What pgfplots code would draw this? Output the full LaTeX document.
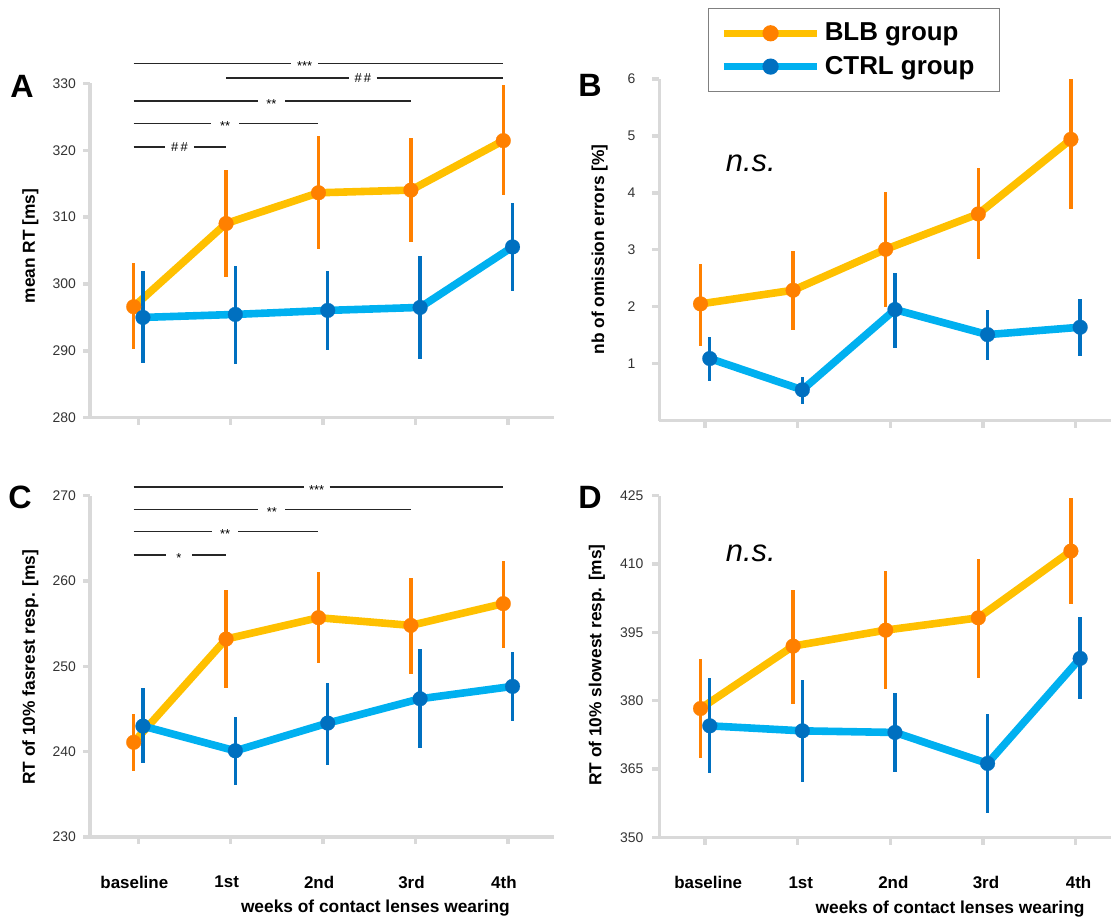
\documentclass[border=0pt]{standalone}
\usepackage{fontspec}
\setmainfont{Liberation Sans}
\usepackage{pgfplots}
\pgfplotsset{compat=1.18}
\definecolor{ylw}{HTML}{FFC000}
\definecolor{org}{HTML}{FF8000}
\definecolor{lblue}{HTML}{00B0F0}
\definecolor{dblue}{HTML}{0070C0}
\definecolor{lgray}{HTML}{D9D9D9}
\pgfplotsset{
 panel/.style={
  scale only axis, axis lines*=left, enlargelimits=false, clip=false,
  axis line style={lgray, line width=1.8bp},
  tick align=outside, major tick length=3.5bp,
  major tick style={lgray, line width=1.7bp},
  xtick={0,1,2,3,4},
  /pgf/number format/assume math mode=true,
  yticklabel style={font=\fontsize{7}{8}\selectfont, text=black!80},
  xticklabel style={font=\bfseries\fontsize{8.5}{10}\selectfont, text=black, yshift=-12.5bp},
 },
 blb/.style={ylw, line width=3.8bp, mark=*, mark size=3.7bp,
  mark options={draw=org, fill=org, line width=0.1bp},
  error bars/.cd, y dir=both, y explicit, error mark=none,
  error bar style={org, line width=1.7bp}},
 ctrl/.style={lblue, line width=3.8bp, mark=*, mark size=3.7bp,
  mark options={draw=dblue, fill=dblue, line width=0.1bp},
  error bars/.cd, y dir=both, y explicit, error mark=none,
  error bar style={dblue, line width=1.7bp}},
}
\newcommand{\sig}[8]{%
 \draw[black!85, line width=0.75bp] (axis cs:#2,#1) -- (axis cs:#3,#1) (axis cs:#4,#1) -- (axis cs:#5,#1);
 \node[font=\fontsize{6.5}{7}\selectfont, inner sep=0pt] at ([yshift=#8]axis cs:#7,#1) {#6};}
\newcommand{\ylab}{\bfseries\fontsize{8.7}{10}\selectfont}
\newcommand{\plab}{\bfseries\fontsize{16.2}{19}\selectfont}
\begin{document}
\begin{tikzpicture}
\useasboundingbox (0,0) rectangle (555.5bp,461bp);
% ---------------- Panel A
\begin{axis}[panel, at={(45bp,252.15bp)}, anchor=south west,
  width=232bp, height=167.1bp,
  xmin=-0.523, xmax=4.499, ymin=280, ymax=330,
  ytick={280,290,300,310,320,330}, xticklabels={}]
\addplot[blb] table[x=x,y=y,y error plus=ep,y error minus=em]{
x y ep em
-0.05 296.6 6.55 6.35
0.95 309.05 8.05 8.05
1.95 313.65 8.45 8.4
2.95 314.05 7.85 7.8
3.95 321.45 8.3 8.2
};
\addplot[ctrl] table[x=x,y=y,y error plus=ep,y error minus=em]{
x y ep em
0.05 295.0 6.9 6.75
1.05 295.45 7.3 7.35
2.05 296.05 5.95 5.95
3.05 296.5 7.65 7.75
4.05 305.55 6.55 6.55
};
\sig{333.0}{-0.05}{1.65}{1.95}{3.95}{***}{1.80}{-1.4bp}
\sig{330.8}{0.95}{2.28}{2.58}{3.95}{\#\,\#}{2.43}{0bp}
\sig{327.4}{-0.05}{1.29}{1.59}{2.95}{**}{1.44}{-1.4bp}
\sig{324.0}{-0.05}{0.79}{1.09}{1.95}{**}{0.94}{-1.4bp}
\sig{320.5}{-0.05}{0.29}{0.60}{0.95}{\#\,\#}{0.445}{0bp}
\node[rotate=90, font=\ylab] at ([xshift=-29.8bp]axis cs:-0.523,305.7) {mean RT [ms]};
\node[font=\plab] at ([xshift=-34bp]axis cs:-0.523,329.6) {A};
\end{axis}
% ---------------- Panel B
\begin{axis}[panel, at={(329.7bp,250.7bp)}, anchor=south west,
  width=225.8bp, height=170.8bp,
  xmin=-0.494, xmax=4.383, ymin=0, ymax=6,
  ytick={1,2,3,4,5,6}, xticklabels={},
  yticklabel style={xshift=-5bp},
  legend style={at={(axis description cs:0.108,1.207)}, anchor=north west,
    draw=black!50, line width=0.6bp, fill=white,
    inner xsep=5.85bp, inner ysep=5bp, row sep=2.2bp,
    font=\bfseries\fontsize{13}{15}\selectfont, cells={anchor=west}},
  legend cell align=left]
\addlegendimage{legend image code/.code={
  \draw[ylw, line width=3.5bp] (0bp,0bp) -- (46.65bp,0bp);
  \fill[org] (23.3bp,0bp) circle (3.75bp);}}
\addlegendentry{BLB group}
\addlegendimage{legend image code/.code={
  \draw[lblue, line width=3.5bp] (0bp,0bp) -- (46.65bp,0bp);
  \fill[dblue] (23.3bp,0bp) circle (3.75bp);}}
\addlegendentry{CTRL group\hspace*{4.6bp}}
\addplot[forget plot, blb] table[x=x,y=y,y error plus=ep,y error minus=em]{
x y ep em
-0.05 2.05 0.70 0.74
0.95 2.29 0.69 0.70
1.95 3.01 1.01 1.01
2.95 3.63 0.80 0.80
3.95 4.94 1.06 1.23
};
\addplot[forget plot, ctrl] table[x=x,y=y,y error plus=ep,y error minus=em]{
x y ep em
0.05 1.09 0.38 0.39
1.05 0.54 0.23 0.24
2.05 1.95 0.65 0.67
3.05 1.51 0.43 0.45
4.05 1.64 0.50 0.51
};
\node[anchor=base west, font=\itshape\fontsize{15.5}{18}\selectfont] at (axis cs:0.148,4.37) {n.s.};
\node[rotate=90, font=\ylab] at ([xshift=-29.85bp]axis cs:-0.494,3.01) {nb of omission errors [\%]};
\node[font=\plab] at ([xshift=-34.7bp]axis cs:-0.494,5.88) {B};
\end{axis}
% ---------------- Panel C
\begin{axis}[panel, at={(45bp,42.5bp)}, anchor=south west,
  width=232bp, height=170.65bp,
  xmin=-0.523, xmax=4.499, ymin=230, ymax=270,
  ytick={230,240,250,260,270},
  xticklabels={baseline,1st,2nd,3rd,4th},
  xticklabel style={xshift=-2bp}]
\addplot[blb] table[x=x,y=y,y error plus=ep,y error minus=em]{
x y ep em
-0.05 241.1 3.35 3.4
0.95 253.2 5.8 5.7
1.95 255.7 5.3 5.3
2.95 254.8 5.6 5.7
3.95 257.35 5.05 5.15
};
\addplot[ctrl] table[x=x,y=y,y error plus=ep,y error minus=em]{
x y ep em
0.05 243.0 4.45 4.3
1.05 240.1 4.0 4.0
2.05 243.35 4.75 4.95
3.05 246.2 5.85 5.8
4.05 247.65 4.0 4.05
};
\sig{271.0}{-0.05}{1.79}{2.07}{3.95}{***}{1.93}{-1.4bp}
\sig{268.4}{-0.05}{1.30}{1.59}{2.95}{**}{1.445}{-1.4bp}
\sig{265.8}{-0.05}{0.80}{1.08}{1.95}{**}{0.94}{-1.4bp}
\sig{263.05}{-0.05}{0.30}{0.58}{0.95}{*}{0.44}{-1.4bp}
\node[rotate=90, font=\ylab] at ([xshift=-29.8bp]axis cs:-0.523,249.87) {RT of 10\% fasrest resp. [ms]};
\node[font=\plab] at ([xshift=-35bp]axis cs:-0.523,269.85) {C};
\node[font=\ylab] at ([yshift=-35.65bp]axis cs:2.566,230) {weeks of contact lenses wearing};
\end{axis}
% ---------------- Panel D
\begin{axis}[panel, at={(329.7bp,42.25bp)}, anchor=south west,
  width=225.8bp, height=170.9bp,
  xmin=-0.494, xmax=4.383, ymin=350, ymax=425,
  ytick={350,365,380,395,410,425},
  yticklabel style={xshift=-1bp},
  xticklabels={baseline,1st,2nd,3rd,4th},
  xticklabel style={xshift=1.5bp}]
\addplot[blb] table[x=x,y=y,y error plus=ep,y error minus=em]{
x y ep em
-0.05 378.3 10.8 10.8
0.95 392.0 12.4 12.8
1.95 395.5 13.0 13.0
2.95 398.2 12.9 13.1
3.95 412.85 11.75 11.7
};
\addplot[ctrl] table[x=x,y=y,y error plus=ep,y error minus=em]{
x y ep em
0.05 374.5 10.4 10.3
1.05 373.4 11.1 11.2
2.05 373.05 8.75 8.65
3.05 366.25 10.95 10.85
4.05 389.3 9.1 9.0
};
\node[anchor=base west, font=\itshape\fontsize{15.5}{18}\selectfont] at (axis cs:0.148,410.5) {n.s.};
\node[rotate=90, font=\ylab] at ([xshift=-31.25bp]axis cs:-0.494,387.85) {RT of 10\% slowest resp. [ms]};
\node[font=\plab] at ([xshift=-34.7bp]axis cs:-0.494,424.7) {D};
\node[font=\ylab] at ([yshift=-35.65bp]axis cs:2.645,350) {weeks of contact lenses wearing};
\end{axis}
\end{tikzpicture}
\end{document}
